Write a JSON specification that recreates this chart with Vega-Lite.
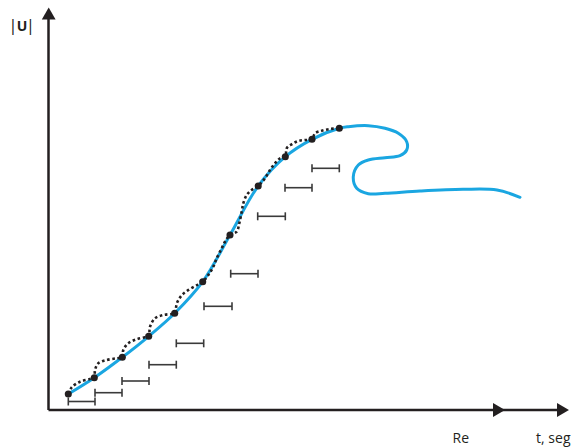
{
  "$schema": "https://vega.github.io/schema/vega-lite/v6.json",
  "width": 575,
  "height": 448,
  "padding": 0,
  "autosize": {"type": "fit", "contains": "padding"},
  "config": {"view": {"stroke": null}, "font": "Open Sans"},
  "datasets": {
    "blue": [
      {"i": 1, "x": 19.8, "y": 16}, {"i": 2, "x": 45.8, "y": 32.3}, {"i": 3, "x": 73.8, "y": 52.7},
      {"i": 4, "x": 100.2, "y": 73.7}, {"i": 5, "x": 126.2, "y": 96.7}, {"i": 6, "x": 154.2, "y": 128.3},
      {"i": 7, "x": 181.5, "y": 175}, {"i": 8, "x": 209.7, "y": 224}, {"i": 9, "x": 236.8, "y": 253.3},
      {"i": 10, "x": 263.5, "y": 270.7}, {"i": 11, "x": 290.8, "y": 281.7}, {"i": 12, "x": 299.8, "y": 283.3},
      {"i": 13, "x": 319.8, "y": 284.3}, {"i": 14, "x": 336.5, "y": 281.7}, {"i": 15, "x": 349.8, "y": 276.7},
      {"i": 16, "x": 358.2, "y": 268.3}, {"i": 17, "x": 358.2, "y": 260}, {"i": 18, "x": 351.5, "y": 254.3},
      {"i": 19, "x": 336.5, "y": 252.3}, {"i": 20, "x": 319.8, "y": 250}, {"i": 21, "x": 309.8, "y": 245},
      {"i": 22, "x": 304.8, "y": 233.3}, {"i": 23, "x": 308.2, "y": 221.7}, {"i": 24, "x": 319.8, "y": 216.3},
      {"i": 25, "x": 336.5, "y": 216.7}, {"i": 26, "x": 371.5, "y": 219}, {"i": 27, "x": 414.5, "y": 220.7},
      {"i": 28, "x": 448.5, "y": 220}, {"i": 29, "x": 471.5, "y": 212.7}
    ],
    "dotted": [
      {"i": 1, "x": 19.8, "y": 16}, {"i": 2, "x": 23.2, "y": 22.7}, {"i": 3, "x": 31.5, "y": 28.3},
      {"i": 4, "x": 41.5, "y": 31}, {"i": 5, "x": 45.8, "y": 32.3}, {"i": 6, "x": 46.5, "y": 40},
      {"i": 7, "x": 49.8, "y": 46.7}, {"i": 8, "x": 58.2, "y": 50}, {"i": 9, "x": 68.2, "y": 51.7},
      {"i": 10, "x": 73.8, "y": 52.7}, {"i": 11, "x": 74.8, "y": 60}, {"i": 12, "x": 79.8, "y": 66.7},
      {"i": 13, "x": 88.2, "y": 70.7}, {"i": 14, "x": 96.5, "y": 72.7}, {"i": 15, "x": 100.2, "y": 73.7},
      {"i": 16, "x": 101.5, "y": 83.3}, {"i": 17, "x": 106.5, "y": 91.7}, {"i": 18, "x": 114.8, "y": 95},
      {"i": 19, "x": 123.2, "y": 96}, {"i": 20, "x": 126.2, "y": 96.7}, {"i": 21, "x": 128.5, "y": 107},
      {"i": 22, "x": 133.5, "y": 115}, {"i": 23, "x": 141.5, "y": 121}, {"i": 24, "x": 149.5, "y": 125.5},
      {"i": 25, "x": 154.2, "y": 128.3}, {"i": 26, "x": 159.8, "y": 135}, {"i": 27, "x": 164.8, "y": 143.3},
      {"i": 28, "x": 168.2, "y": 151.7}, {"i": 29, "x": 173.2, "y": 161.7}, {"i": 30, "x": 176.5, "y": 168.3},
      {"i": 31, "x": 181.5, "y": 175}, {"i": 32, "x": 188.2, "y": 178.3}, {"i": 33, "x": 190.8, "y": 186.7},
      {"i": 34, "x": 193.2, "y": 198.3}, {"i": 35, "x": 194.8, "y": 206.7}, {"i": 36, "x": 198.2, "y": 215},
      {"i": 37, "x": 203.2, "y": 220}, {"i": 38, "x": 209.7, "y": 224}, {"i": 39, "x": 216.5, "y": 231.7},
      {"i": 40, "x": 221.5, "y": 240}, {"i": 41, "x": 226.5, "y": 246.7}, {"i": 42, "x": 231.5, "y": 251.7},
      {"i": 43, "x": 236.8, "y": 253.3}, {"i": 44, "x": 238.2, "y": 261.7}, {"i": 45, "x": 243.2, "y": 265.7},
      {"i": 46, "x": 249.8, "y": 269}, {"i": 47, "x": 256.5, "y": 270}, {"i": 48, "x": 263.5, "y": 270.7},
      {"i": 49, "x": 266.5, "y": 276.7}, {"i": 50, "x": 273.2, "y": 279.3}, {"i": 51, "x": 281.5, "y": 281},
      {"i": 52, "x": 290.8, "y": 281.7}
    ],
    "dots": [
      {"x": 19.8, "y": 16}, {"x": 45.8, "y": 32.3}, {"x": 73.8, "y": 52.7}, {"x": 100.2, "y": 73.7},
      {"x": 126.2, "y": 96.7}, {"x": 154.2, "y": 128.3}, {"x": 181.5, "y": 175}, {"x": 209.7, "y": 224},
      {"x": 236.8, "y": 253.3}, {"x": 263.5, "y": 270.7}, {"x": 290.8, "y": 281.7}
    ],
    "bars": [
      {"x1": 19.8, "x2": 46.5, "y": 8.5}, {"x1": 46.5, "x2": 73.5, "y": 17.3},
      {"x1": 73.5, "x2": 100.5, "y": 29}, {"x1": 100.5, "x2": 127.8, "y": 45.3},
      {"x1": 127.8, "x2": 155.2, "y": 66.7}, {"x1": 155.5, "x2": 183.5, "y": 103.7},
      {"x1": 182.2, "x2": 209.5, "y": 136.3}, {"x1": 209.2, "x2": 236.8, "y": 193.7},
      {"x1": 236.5, "x2": 263.5, "y": 222.3}, {"x1": 263.5, "x2": 290.8, "y": 241.7}
    ],
    "yaxis": [{"x": 0, "y": 0, "y2": 393}],
    "xaxis": [{"x": 0, "x2": 512, "y": 0}],
    "uparrow": [{"x": 0.2, "y": 396.5}],
    "rightarrows": [{"x": 450.5, "y": 0}, {"x": 514.5, "y": 0}],
    "bars_label": [{"x": -35.5, "y": 384, "t": "|"}, {"x": -18, "y": 384, "t": "|"}],
    "u_label": [{"x": -26.5, "y": 383.5, "t": "U"}],
    "x_labels": [{"x": 412.3, "y": -28.5, "t": "Re"}, {"x": 504.8, "y": -28.5, "t": "t, seg"}]
  },
  "encoding": {
    "x": {"field": "x", "type": "quantitative", "axis": null, "scale": {"domain": [-48.5, 526.5], "nice": false, "zero": false}},
    "y": {"field": "y", "type": "quantitative", "axis": null, "scale": {"domain": [-38, 410], "nice": false, "zero": false}}
  },
  "layer": [
    {
      "data": {"name": "yaxis"},
      "mark": {"type": "rule", "color": "#231f20", "strokeWidth": 2.5},
      "encoding": {"y2": {"field": "y2"}}
    },
    {
      "data": {"name": "xaxis"},
      "mark": {"type": "rule", "color": "#231f20", "strokeWidth": 2.5},
      "encoding": {"x2": {"field": "x2"}}
    },
    {
      "data": {"name": "uparrow"},
      "mark": {"type": "point", "shape": "triangle-up", "filled": true, "color": "#231f20", "size": 190, "opacity": 1}
    },
    {
      "data": {"name": "rightarrows"},
      "mark": {"type": "point", "shape": "triangle-right", "filled": true, "color": "#231f20", "size": 190, "opacity": 1}
    },
    {
      "data": {"name": "bars"},
      "mark": {"type": "rule", "color": "#3a3a3a", "strokeWidth": 1.6},
      "encoding": {"x": {"field": "x1", "type": "quantitative"}, "x2": {"field": "x2"}}
    },
    {
      "data": {"name": "bars"},
      "mark": {"type": "tick", "orient": "vertical", "color": "#3a3a3a", "size": 8, "thickness": 1.6, "opacity": 1},
      "encoding": {"x": {"field": "x1", "type": "quantitative"}}
    },
    {
      "data": {"name": "bars"},
      "mark": {"type": "tick", "orient": "vertical", "color": "#3a3a3a", "size": 8, "thickness": 1.6, "opacity": 1},
      "encoding": {"x": {"field": "x2", "type": "quantitative"}}
    },
    {
      "data": {"name": "blue"},
      "mark": {"type": "line", "interpolate": "catmull-rom", "color": "#1aa6e1", "strokeWidth": 3, "strokeCap": "round"},
      "encoding": {"order": {"field": "i", "type": "quantitative"}}
    },
    {
      "data": {"name": "dotted"},
      "mark": {"type": "line", "interpolate": "catmull-rom", "color": "#231f20", "strokeWidth": 2.6, "strokeDash": [2.6, 2.6]},
      "encoding": {"order": {"field": "i", "type": "quantitative"}}
    },
    {
      "data": {"name": "dots"},
      "mark": {"type": "circle", "color": "#231f20", "size": 50, "opacity": 1}
    },
    {
      "data": {"name": "bars_label"},
      "mark": {"type": "text", "fontSize": 17, "color": "#231f20", "baseline": "middle", "align": "center"},
      "encoding": {"text": {"field": "t"}}
    },
    {
      "data": {"name": "u_label"},
      "mark": {"type": "text", "fontSize": 14, "fontWeight": "bold", "color": "#231f20", "baseline": "middle", "align": "center"},
      "encoding": {"text": {"field": "t"}}
    },
    {
      "data": {"name": "x_labels"},
      "mark": {"type": "text", "fontSize": 14, "color": "#231f20", "baseline": "middle", "align": "center"},
      "encoding": {"text": {"field": "t"}}
    }
  ]
}
